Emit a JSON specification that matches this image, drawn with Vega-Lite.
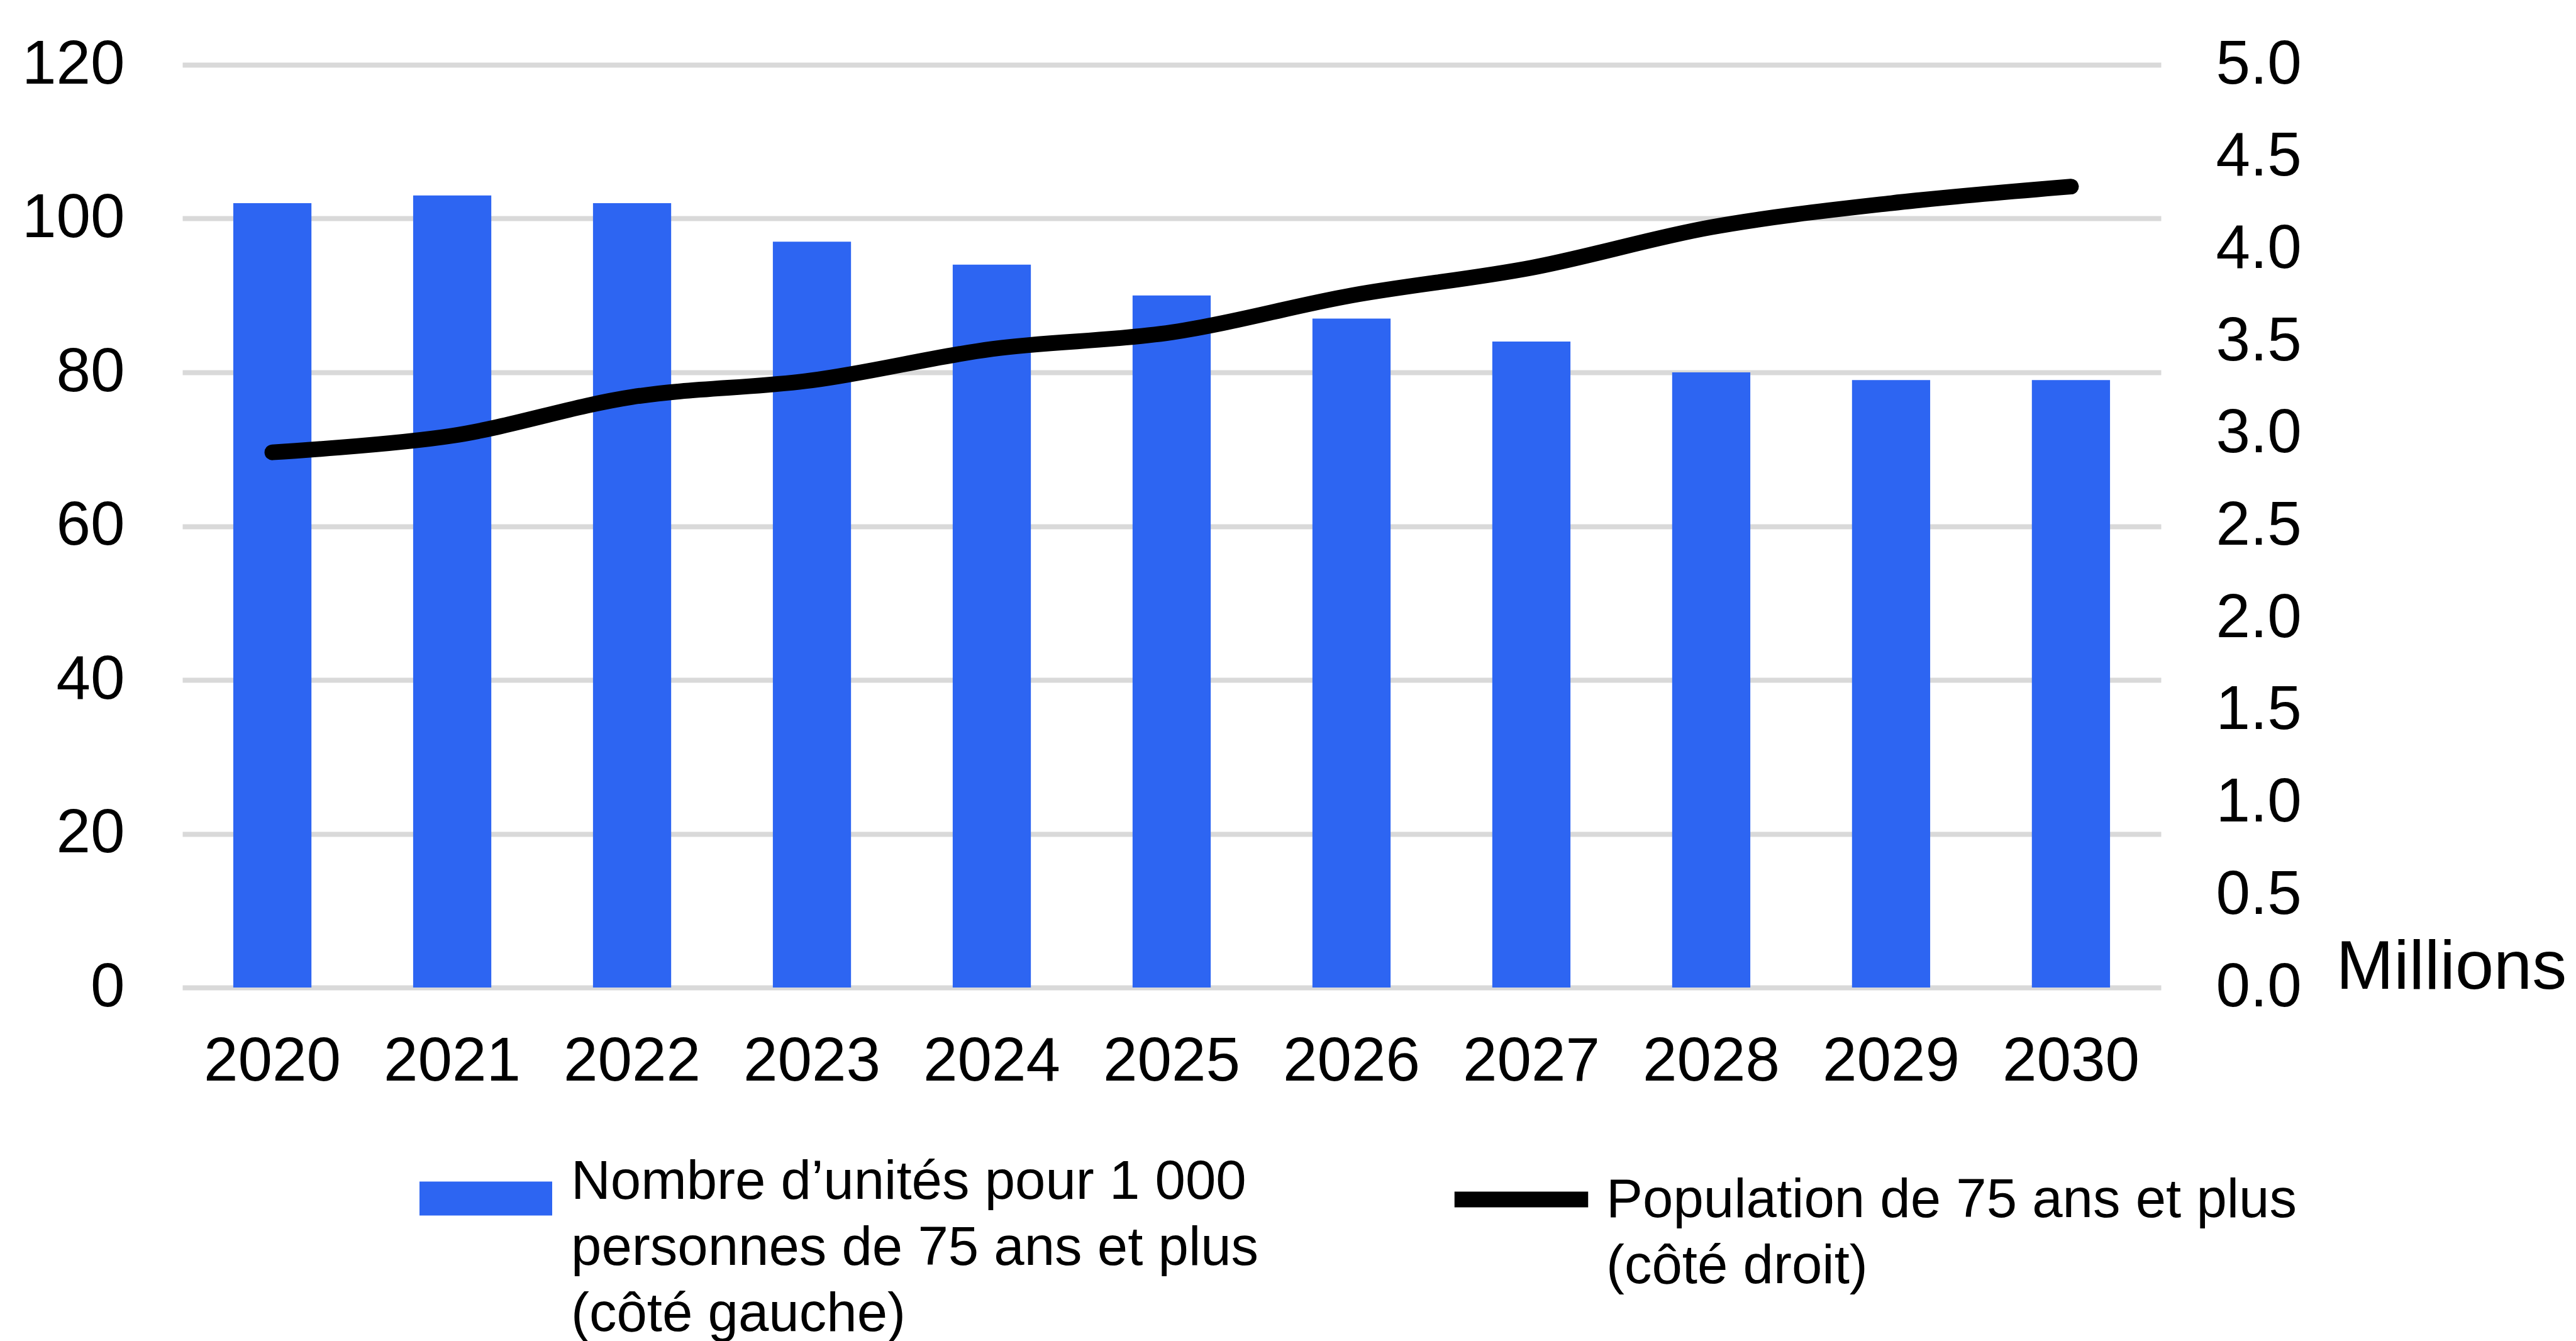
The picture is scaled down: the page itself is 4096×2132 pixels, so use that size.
{
  "$schema": "https://vega.github.io/schema/vega-lite/v6.json",
  "width": 3146,
  "height": 1467,
  "autosize": {"type": "none"},
  "padding": {"left": 290, "top": 103, "right": 660, "bottom": 562},
  "background": "#ffffff",
  "data": {
    "values": [
      {"annee": "2020", "unites": 102, "population": 2.90},
      {"annee": "2021", "unites": 103, "population": 2.99},
      {"annee": "2022", "unites": 102, "population": 3.20},
      {"annee": "2023", "unites": 97, "population": 3.29},
      {"annee": "2024", "unites": 94, "population": 3.46},
      {"annee": "2025", "unites": 90, "population": 3.55},
      {"annee": "2026", "unites": 87, "population": 3.75},
      {"annee": "2027", "unites": 84, "population": 3.90},
      {"annee": "2028", "unites": 80, "population": 4.12},
      {"annee": "2029", "unites": 79, "population": 4.25},
      {"annee": "2030", "unites": 79, "population": 4.34}
    ]
  },
  "encoding": {
    "x": {
      "field": "annee",
      "type": "ordinal",
      "scale": {"paddingInner": 0.5655, "paddingOuter": 0.283},
      "axis": {
        "title": null,
        "labelAngle": 0,
        "ticks": false,
        "domain": false,
        "grid": false,
        "labelPadding": 70,
        "labelBaseline": "top",
        "labelLimit": 1000,
        "labelOverlap": false
      }
    }
  },
  "layer": [
    {
      "mark": {"type": "bar", "color": "#2d65f2"},
      "encoding": {
        "y": {
          "field": "unites",
          "type": "quantitative",
          "scale": {"domain": [0, 120], "nice": false},
          "axis": {
            "title": null,
            "values": [0, 20, 40, 60, 80, 100, 120],
            "grid": true,
            "gridColor": "#d9d9d9",
            "gridWidth": 8,
            "domain": false,
            "ticks": false,
            "labelPadding": 92
          }
        },
        "color": {
          "datum": "Nombre d’unités pour 1 000 personnes de 75 ans et plus (côté gauche)",
          "scale": {"range": ["#2d65f2"]},
          "legend": {
            "title": null,
            "orient": "none",
            "legendX": 377,
            "legendY": 1697,
            "padding": 0,
            "symbolType": "M-1,-0.256L1,-0.256L1,0.256L-1,0.256Z",
            "symbolSize": 44521,
            "symbolStrokeWidth": 0,
            "labelOffset": 30,
            "labelLimit": 3000,
            "labelBaseline": "alphabetic",
            "labelExpr": "['Nombre d’unités pour 1 000', 'personnes de 75 ans et plus', '(côté gauche)']"
          }
        }
      }
    },
    {
      "mark": {
        "type": "line",
        "strokeWidth": 25,
        "strokeCap": "round",
        "strokeJoin": "round",
        "interpolate": "catmull-rom"
      },
      "encoding": {
        "y": {
          "field": "population",
          "type": "quantitative",
          "scale": {"domain": [0, 5], "nice": false},
          "axis": {
            "orient": "right",
            "values": [0, 0.5, 1, 1.5, 2, 2.5, 3, 3.5, 4, 4.5, 5],
            "format": ".1f",
            "grid": false,
            "domain": false,
            "ticks": false,
            "labelPadding": 87,
            "title": "Millions",
            "titleAngle": 0,
            "titleAlign": "left",
            "titleBaseline": "alphabetic",
            "titleX": 278,
            "titleY": 1468,
            "titleFontSize": 110,
            "titleFontWeight": "normal"
          }
        },
        "stroke": {
          "datum": "Population de 75 ans et plus (côté droit)",
          "scale": {"range": ["#000000"]},
          "legend": {
            "title": null,
            "orient": "none",
            "legendX": 2010,
            "legendY": 1713,
            "padding": 0,
            "symbolType": "M-1,-0.264L1,-0.264",
            "symbolSize": 45156,
            "symbolStrokeWidth": 25,
            "symbolStrokeColor": "#000000",
            "labelOffset": 16,
            "labelLimit": 3000,
            "labelBaseline": "alphabetic",
            "labelExpr": "['Population de 75 ans et plus', '(côté droit)']"
          }
        }
      }
    }
  ],
  "resolve": {"scale": {"y": "independent"}},
  "config": {
    "view": {"stroke": null},
    "axis": {
      "labelFont": "Liberation Sans",
      "labelFontSize": 98,
      "labelColor": "#000000",
      "titleFont": "Liberation Sans",
      "titleColor": "#000000"
    },
    "legend": {
      "labelFont": "Liberation Sans",
      "labelFontSize": 87,
      "labelColor": "#000000",
      "padding": 0
    },
    "style": {"guide-label": {"lineHeight": 105}}
  }
}
